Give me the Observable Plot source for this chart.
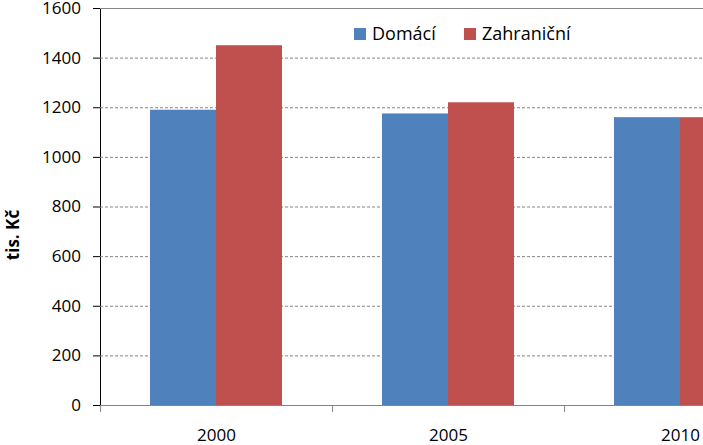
<!DOCTYPE html>
<html>
<head>
<meta charset="utf-8">
<script src="https://cdn.jsdelivr.net/npm/d3@7"></script>
<script src="https://cdn.jsdelivr.net/npm/@observablehq/plot@0.6"></script>
<style>
  html, body { margin: 0; padding: 0; background: white; }
  #wrap { position: relative; width: 703px; height: 445px; overflow: hidden; font-family: "Open Sans", sans-serif; }
  #legend { position: absolute; left: 354px; top: 23px; font-size: 18px; color: #000; white-space: nowrap; }
  #legend .item { position: absolute; top: 0; height: 22px; line-height: 22px; }
  #legend .sw { position: absolute; top: 5px; left: 0; width: 12px; height: 12px; }
  #legend .lbl { position: absolute; left: 18px; top: -1px; }
  #ylabel { position: absolute; left: 12px; top: 235px; transform: translate(-50%, -50%) rotate(-90deg); font-weight: bold; font-size: 17px; white-space: nowrap; color: #000; }
</style>
</head>
<body>
<div id="wrap"></div>
<script>
const years = [2000, 2005, 2010];
const series = ["Domácí", "Zahraniční"];
const domaci = [1190, 1175, 1160];
const zahranicni = [1450, 1220, 1160];
const yTicks = [0, 200, 400, 600, 800, 1000, 1200, 1400, 1600];
const gridValues = [200, 400, 600, 800, 1000, 1200, 1400];
const colors = ["#4F81BD", "#C0504D"];
const yTitle = "tis. Kč";

const data = years.flatMap((yr, i) => [
  {year: yr, series: series[0], value: domaci[i]},
  {year: yr, series: series[1], value: zahranicni[i]}
]);

const W = 796, ML = 99, MR = 0;
const padOuter = 0.747;
const facetWidth = (W - ML - MR) / years.length;
const step = facetWidth / (series.length + 2 * padOuter);
const boundaryOffset = -(padOuter * step + step / 2);

const chart = Plot.plot({
  width: W,
  height: 445,
  marginLeft: ML,
  marginRight: MR,
  marginTop: 8,
  marginBottom: 40,
  style: {fontFamily: "Open Sans", fontSize: "17px", color: "#000", background: "white", maxWidth: "none", overflow: "visible"},
  facet: {data: data, x: "year"},
  fx: {domain: years, padding: 0, label: null, tickSize: 0, tickPadding: 23, axis: "bottom", tickFormat: d => String(d)},
  x: {domain: series, paddingInner: 0, paddingOuter: padOuter, axis: null},
  y: {domain: [0, 1600], ticks: yTicks, tickSize: 7, tickPadding: 12.5, label: null, tickFormat: d => String(d), line: true},
  color: {domain: series, range: colors},
  marks: [
    Plot.ruleY(gridValues, {stroke: "#868686", strokeDasharray: "3,2", strokeOpacity: 1}),
    Plot.ruleY([1600], {stroke: "#868686", strokeOpacity: 1}),
    Plot.barY(data, {x: "series", y: "value", fill: "series"}),
    Plot.ruleY([0], {stroke: "#868686", strokeOpacity: 1}),
    Plot.ruleX([series[0]], {x: d => d, y1: 0, y2: -28, stroke: "#868686", strokeOpacity: 1, dx: boundaryOffset})
  ]
});

const wrap = document.getElementById("wrap");
wrap.appendChild(chart);
d3.select(chart).selectAll("[aria-label='y-axis'] path, [aria-label='y-axis'] line").attr("stroke", "#868686").attr("stroke-opacity", 1);

// legend
const legend = document.createElement("div");
legend.id = "legend";
const offsets = [0, 110];
series.forEach((s, i) => {
  const item = document.createElement("div");
  item.className = "item";
  item.style.left = offsets[i] + "px";
  const sw = document.createElement("div");
  sw.className = "sw";
  sw.style.background = colors[i];
  const lbl = document.createElement("span");
  lbl.className = "lbl";
  lbl.textContent = s;
  item.appendChild(sw);
  item.appendChild(lbl);
  legend.appendChild(item);
});
wrap.appendChild(legend);

const yl = document.createElement("div");
yl.id = "ylabel";
yl.textContent = yTitle;
wrap.appendChild(yl);
</script>
</body>
</html>
